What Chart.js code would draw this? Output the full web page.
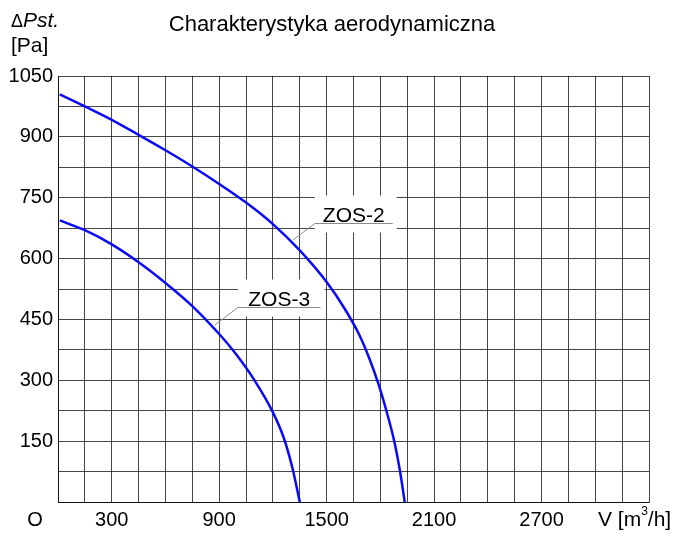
<!DOCTYPE html>
<html>
<head>
<meta charset="utf-8">
<script src="https://cdn.jsdelivr.net/npm/chart.js@4/dist/chart.umd.min.js"></script>
<style>
  body { margin: 0; background: #fff; }
  #wrap { width: 688px; height: 540px; }
</style>
</head>
<body>
<div id="wrap"><canvas id="chart1" width="688" height="540"></canvas></div>
<script>
// values
var zos2Flow = [10, 150, 300, 450, 600, 750, 900, 1050, 1200, 1350, 1500, 1600, 1680, 1740, 1790, 1840, 1880, 1910, 1936];
var zos2Pressure = [1005, 975, 942, 905, 867, 827, 784, 738, 685, 620, 542, 477, 414, 352, 290, 215, 145, 75, 0];
var zos3Flow = [10, 150, 300, 450, 600, 750, 900, 1000, 1100, 1200, 1260, 1310, 1350];
var zos3Pressure = [694, 670, 635, 591, 540, 483, 414, 361, 298, 221, 159, 82, 0];
var xTickLabels = [300, 900, 1500, 2100, 2700];
var yTickLabels = [150, 300, 450, 600, 750, 900, 1050];

var FONT = "'Liberation Sans', Arial, sans-serif";
var gridColor = 'rgba(0,0,0,0.72)';
var blue = 'rgb(10,10,245)';

function points(xs, ys) {
  return xs.map(function (x, i) { return { x: x, y: ys[i] }; });
}

// where the curve names sit (data units): anchor on the curve, underline start/end
var curveLabels = [
  { text: 'ZOS-2', ax: 1313, ay: 646, x1: 1434, x2: 1869, y: 687 },
  { text: 'ZOS-3', ax: 875, ay: 436, x1: 1004, x2: 1466, y: 481 }
];

var decorations = {
  id: 'decorations',
  beforeDatasetsDraw: function (chart) {
    var ctx = chart.ctx, xs = chart.scales.x, ys = chart.scales.y;
    ctx.save();
    curveLabels.forEach(function (l) {
      var px1 = xs.getPixelForValue(l.x1), px2 = xs.getPixelForValue(l.x2);
      var py = Math.round(ys.getPixelForValue(l.y)) + 0.5;
      ctx.fillStyle = '#fff';
      ctx.fillRect(px1, py - 28, px2 - px1 + 4, 37);
      ctx.strokeStyle = '#8a8a8a';
      ctx.lineWidth = 1;
      ctx.beginPath();
      ctx.moveTo(xs.getPixelForValue(l.ax), ys.getPixelForValue(l.ay));
      ctx.lineTo(px1, py);
      ctx.lineTo(px2, py);
      ctx.stroke();
      ctx.fillStyle = '#000';
      ctx.font = '21px ' + FONT;
      ctx.textAlign = 'center';
      ctx.textBaseline = 'alphabetic';
      ctx.fillText(l.text, (px1 + px2) / 2, py - 2);
    });
    ctx.restore();
  },
  afterDraw: function (chart) {
    var ctx = chart.ctx;
    ctx.save();
    ctx.fillStyle = '#000';
    ctx.textBaseline = 'alphabetic';
    ctx.textAlign = 'center';
    ctx.font = '22px ' + FONT;
    ctx.fillText('Charakterystyka aerodynamiczna', 332, 31);

    ctx.textAlign = 'left';
    ctx.font = '18px ' + FONT;
    ctx.fillText('\u0394', 11, 27);
    var w = ctx.measureText('\u0394').width;
    ctx.font = 'italic 21px ' + FONT;
    ctx.fillText('Pst.', 11 + w, 27);
    ctx.font = '21px ' + FONT;
    ctx.fillText('[Pa]', 11, 52);

    ctx.font = '20px ' + FONT;
    ctx.textAlign = 'center';
    ctx.fillText('O', 35, 526);
    ctx.textAlign = 'left';
    var x = 598;
    ctx.font = '21px ' + FONT;
    ctx.fillText('V [m', x, 526);
    x += ctx.measureText('V [m').width;
    ctx.font = '12px ' + FONT;
    ctx.fillText('3', x, 515);
    x += ctx.measureText('3').width;
    ctx.font = '21px ' + FONT;
    ctx.fillText('/h]', x, 526);
    ctx.restore();
  }
};

var ctx = document.getElementById('chart1').getContext('2d');
var chart = new Chart(ctx, {
  type: 'line',
  data: {
    datasets: [
      {
        label: 'ZOS-2',
        data: points(zos2Flow, zos2Pressure),
        borderColor: blue,
        borderWidth: 2.5,
        pointRadius: 0,
        fill: false,
        cubicInterpolationMode: 'monotone'
      },
      {
        label: 'ZOS-3',
        data: points(zos3Flow, zos3Pressure),
        borderColor: blue,
        borderWidth: 2.5,
        pointRadius: 0,
        fill: false,
        cubicInterpolationMode: 'monotone'
      }
    ]
  },
  options: {
    responsive: false,
    animation: false,
    layout: { padding: { top: 76, right: 39, left: 0, bottom: 0 } },
    plugins: {
      legend: { display: false },
      title: { display: false },
      tooltip: { enabled: false }
    },
    scales: {
      x: {
        type: 'linear',
        min: 0,
        max: 3300,
        afterFit: function (axis) { axis.height = 38; },
        ticks: {
          stepSize: 150,
          autoSkip: false,
          maxRotation: 0,
          padding: 6,
          color: '#000',
          font: { family: FONT, size: 20 },
          callback: function (v) { return xTickLabels.indexOf(v) >= 0 ? String(v) : ''; }
        },
        grid: { color: gridColor, drawTicks: false },
        border: { color: gridColor }
      },
      y: {
        min: 0,
        max: 1050,
        afterFit: function (axis) { axis.width = 58; },
        ticks: {
          stepSize: 75,
          autoSkip: false,
          padding: 5,
          color: '#000',
          font: { family: FONT, size: 20 },
          callback: function (v) { return yTickLabels.indexOf(v) >= 0 ? String(v) : ''; }
        },
        grid: { color: gridColor, drawTicks: false },
        border: { color: gridColor }
      }
    }
  },
  plugins: [decorations]
});
</script>
</body>
</html>
